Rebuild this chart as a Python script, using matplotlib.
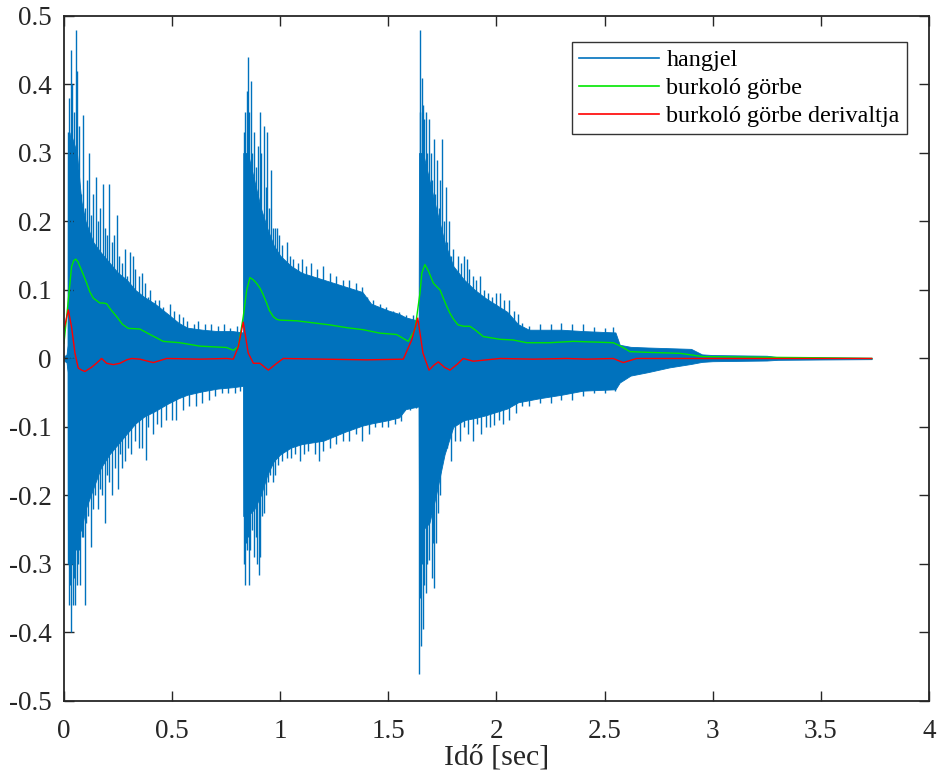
import matplotlib
matplotlib.use("Agg")
import matplotlib.pyplot as plt
from matplotlib.lines import Line2D

# dense part of the sound signal (upper / lower edge)
body_t = [0.000, 0.012, 0.017, 0.018, 0.03, 0.06, 0.08, 0.10, 0.135, 0.17, 0.21, 0.25, 0.29, 0.33,
          0.37, 0.42, 0.48, 0.53, 0.57, 0.64, 0.71, 0.78, 0.828,
          0.829, 0.85, 0.88, 0.91, 0.94, 0.97, 1.00, 1.05, 1.10, 1.20, 1.30, 1.38, 1.42, 1.50,
          1.55, 1.58, 1.640,
          1.642, 1.66, 1.69, 1.72, 1.76, 1.80, 1.85, 1.90, 1.95, 2.00, 2.05, 2.10, 2.15, 2.20,
          2.30, 2.40, 2.55, 2.57, 2.62, 2.70, 2.80, 2.90, 2.95, 3.00, 3.25, 3.30, 3.50, 3.735]
body_hi = [0.003, 0.006, 0.02, 0.30, 0.33, 0.30, 0.23, 0.20, 0.17, 0.155, 0.14, 0.125, 0.115, 0.10,
           0.09, 0.08, 0.065, 0.052, 0.045, 0.042, 0.04, 0.04, 0.038,
           0.30, 0.30, 0.26, 0.22, 0.19, 0.165, 0.15, 0.135, 0.125, 0.115, 0.105, 0.097, 0.08, 0.07,
           0.065, 0.06, 0.055,
           0.30, 0.30, 0.26, 0.22, 0.17, 0.135, 0.115, 0.10, 0.088, 0.078, 0.068, 0.05, 0.042, 0.042,
           0.042, 0.04, 0.038, 0.02, 0.017, 0.016, 0.015, 0.014, 0.006, 0.005, 0.004, 0.002, 0.0015, 0.001]
body_lo = [-0.003, -0.006, -0.02, -0.25, -0.27, -0.26, -0.25, -0.22, -0.19, -0.16, -0.14, -0.125, -0.11, -0.095,
           -0.085, -0.077, -0.066, -0.058, -0.053, -0.048, -0.044, -0.042, -0.04,
           -0.23, -0.23, -0.22, -0.20, -0.17, -0.15, -0.14, -0.13, -0.125, -0.12, -0.107, -0.098, -0.095, -0.09,
           -0.086, -0.074, -0.07,
           -0.25, -0.25, -0.24, -0.20, -0.14, -0.10, -0.09, -0.087, -0.083, -0.078, -0.073, -0.064, -0.061, -0.058,
           -0.053, -0.047, -0.045, -0.035, -0.025, -0.02, -0.013, -0.008, -0.005, -0.004, -0.003, -0.002, -0.0015, -0.001]

# individual peaks sticking out of the dense part
peak_hi_t = [0.020, 0.025, 0.031, 0.038, 0.045, 0.055, 0.062, 0.070, 0.078, 0.086, 0.095, 0.105, 0.117,
             0.125, 0.135, 0.148, 0.158, 0.168, 0.179, 0.190, 0.200, 0.210, 0.222, 0.232, 0.244, 0.256,
             0.268, 0.280, 0.292, 0.305, 0.318, 0.33, 0.345, 0.36, 0.375, 0.39, 0.40, 0.42, 0.44, 0.46,
             0.49, 0.51, 0.53, 0.55, 0.57, 0.60, 0.62, 0.65, 0.68, 0.71, 0.74, 0.77, 0.80,
             0.832, 0.838, 0.845, 0.849, 0.855, 0.863, 0.870, 0.878, 0.886, 0.895, 0.905, 0.912, 0.925,
             0.932, 0.94, 0.948, 0.956, 0.965, 0.975, 0.985, 0.995, 1.01, 1.03, 1.045, 1.06, 1.08, 1.10,
             1.12, 1.14, 1.17, 1.20, 1.23, 1.26, 1.29, 1.32, 1.35, 1.38, 1.40, 1.43, 1.46, 1.49, 1.52,
             1.55, 1.58, 1.615,
             1.645, 1.648, 1.654, 1.660, 1.667, 1.674, 1.681, 1.688, 1.697, 1.704, 1.711, 1.718, 1.725,
             1.732, 1.740, 1.746, 1.755, 1.765, 1.772, 1.780, 1.79, 1.80, 1.81, 1.822, 1.835, 1.848,
             1.862, 1.875, 1.89, 1.905, 1.924, 1.94, 1.96, 1.98, 2.0, 2.016, 2.035, 2.06, 2.08, 2.1,
             2.12, 2.15, 2.2, 2.25, 2.3, 2.35, 2.4, 2.45, 2.5, 2.54]
peak_hi = [0.33, 0.38, 0.45, 0.40, 0.36, 0.48, 0.42, 0.34, 0.24, 0.355, 0.22, 0.26, 0.30,
           0.21, 0.24, 0.265, 0.20, 0.22, 0.255, 0.19, 0.18, 0.255, 0.17, 0.18, 0.21, 0.15,
           0.14, 0.16, 0.12, 0.155, 0.15, 0.13, 0.12, 0.125, 0.11, 0.09, 0.10, 0.085, 0.085, 0.075,
           0.08, 0.07, 0.065, 0.06, 0.055, 0.05, 0.055, 0.05, 0.05, 0.048, 0.05, 0.045, 0.047,
           0.33, 0.36, 0.39, 0.44, 0.36, 0.405, 0.30, 0.33, 0.28, 0.31, 0.36, 0.30, 0.34,
           0.25, 0.33, 0.22, 0.275, 0.19, 0.19, 0.19, 0.18, 0.165, 0.17, 0.15, 0.145, 0.14, 0.145,
           0.135, 0.14, 0.13, 0.135, 0.125, 0.12, 0.115, 0.115, 0.11, 0.105, 0.09, 0.085, 0.08, 0.075, 0.07,
           0.068, 0.064, 0.063,
           0.36, 0.48, 0.41, 0.37, 0.35, 0.36, 0.30, 0.35, 0.30, 0.26, 0.32, 0.24, 0.29,
           0.22, 0.26, 0.32, 0.20, 0.25, 0.17, 0.20, 0.15, 0.16, 0.13, 0.15, 0.14, 0.15,
           0.145, 0.13, 0.12, 0.115, 0.12, 0.10, 0.095, 0.09, 0.095, 0.095, 0.085, 0.085, 0.07, 0.065,
           0.052, 0.048, 0.05, 0.05, 0.052, 0.05, 0.05, 0.046, 0.045, 0.046]

peak_lo_t = [0.020, 0.025, 0.028, 0.032, 0.036, 0.040, 0.045, 0.05, 0.055, 0.06, 0.065, 0.07, 0.076,
             0.083, 0.09, 0.097, 0.104, 0.11, 0.123, 0.135, 0.145, 0.158, 0.168, 0.178, 0.19, 0.20,
             0.21, 0.22, 0.235, 0.25, 0.26, 0.27, 0.28, 0.295, 0.31, 0.33, 0.345, 0.36, 0.378, 0.39,
             0.41, 0.43, 0.45, 0.47, 0.5, 0.52, 0.55, 0.58, 0.61, 0.64, 0.67, 0.7, 0.73, 0.76, 0.79, 0.815,
             0.832, 0.836, 0.84, 0.845, 0.85, 0.856, 0.862, 0.87, 0.878, 0.886, 0.893, 0.9, 0.908,
             0.915, 0.925, 0.935, 0.945, 0.955, 0.965, 0.975, 0.99, 1.01, 1.03, 1.05, 1.07, 1.09,
             1.11, 1.13, 1.16, 1.18, 1.2, 1.23, 1.26, 1.29, 1.32, 1.35, 1.38, 1.41, 1.44, 1.47,
             1.5, 1.53, 1.56, 1.6, 1.63,
             1.644, 1.648, 1.652, 1.657, 1.661, 1.667, 1.672, 1.68, 1.69, 1.7, 1.708, 1.713, 1.72,
             1.73, 1.74, 1.745, 1.755, 1.77, 1.79, 1.81, 1.83, 1.85, 1.87, 1.89, 1.91, 1.93, 1.95,
             1.97, 1.99, 2.01, 2.03, 2.06, 2.09, 2.12, 2.15, 2.2, 2.25, 2.3, 2.35, 2.4, 2.45, 2.5, 2.55]
peak_lo = [-0.30, -0.36, -0.33, -0.40, -0.30, -0.36, -0.32, -0.36, -0.28, -0.33, -0.30, -0.28, -0.33,
           -0.26, -0.26, -0.36, -0.24, -0.23, -0.275, -0.22, -0.20, -0.22, -0.19, -0.20, -0.24, -0.17,
           -0.18, -0.20, -0.16, -0.19, -0.14, -0.16, -0.15, -0.13, -0.14, -0.12, -0.13, -0.13, -0.148, -0.10,
           -0.11, -0.095, -0.10, -0.09, -0.09, -0.09, -0.075, -0.07, -0.07, -0.065, -0.06, -0.055, -0.05,
           -0.05, -0.05, -0.048,
           -0.30, -0.33, -0.27, -0.28, -0.26, -0.33, -0.28, -0.25, -0.29, -0.26, -0.30, -0.316, -0.29,
           -0.23, -0.226, -0.20, -0.18, -0.17, -0.18, -0.17, -0.155, -0.15, -0.145, -0.145, -0.14, -0.15,
           -0.14, -0.135, -0.14, -0.15, -0.135, -0.13, -0.125, -0.12, -0.12, -0.11, -0.12, -0.11, -0.10, -0.10,
           -0.10, -0.095, -0.092, -0.075, -0.072,
           -0.46, -0.35, -0.42, -0.30, -0.395, -0.33, -0.343, -0.30, -0.294, -0.32, -0.27, -0.335, -0.27,
           -0.226, -0.20, -0.144, -0.13, -0.13, -0.15, -0.12, -0.12, -0.10, -0.11, -0.12, -0.095, -0.11, -0.10,
           -0.10, -0.097, -0.09, -0.095, -0.09, -0.08, -0.07, -0.07, -0.065, -0.065, -0.06, -0.06, -0.055,
           -0.05, -0.05, -0.048]

# envelope curve
env_t = [0.0, 0.02, 0.035, 0.045, 0.055, 0.065, 0.074, 0.09, 0.105, 0.12, 0.136, 0.166, 0.18, 0.197,
         0.22, 0.244, 0.27, 0.297, 0.351, 0.398, 0.459, 0.536, 0.629, 0.752, 0.783, 0.806, 0.829,
         0.845, 0.86, 0.875, 0.89, 0.906, 0.92, 0.937, 0.95, 0.968, 0.985, 0.999, 1.076,
         1.153, 1.23, 1.307, 1.384, 1.461, 1.538, 1.592, 1.623, 1.646, 1.655, 1.669, 1.685, 1.708,
         1.72, 1.739, 1.77, 1.785, 1.80, 1.822, 1.85, 1.877, 1.9, 1.939, 2.016, 2.077, 2.14, 2.247,
         2.355, 2.45, 2.54, 2.58, 2.617, 2.694, 2.85, 2.956, 3.157, 3.5, 3.735]
env_v = [0.022, 0.085, 0.134, 0.143, 0.145, 0.141, 0.134, 0.122, 0.11, 0.097, 0.088, 0.081, 0.081, 0.08,
         0.07, 0.061, 0.05, 0.044, 0.043, 0.035, 0.025, 0.023, 0.018, 0.016, 0.012, 0.017, 0.061,
         0.100, 0.118, 0.115, 0.11, 0.103, 0.094, 0.081, 0.07, 0.061, 0.057, 0.056, 0.055,
         0.052, 0.049, 0.045, 0.042, 0.037, 0.035, 0.025, 0.042, 0.095, 0.125, 0.137, 0.128, 0.11,
         0.106, 0.10, 0.076, 0.066, 0.058, 0.049, 0.047, 0.047, 0.042, 0.032, 0.028, 0.027, 0.023, 0.023,
         0.025, 0.024, 0.023, 0.017, 0.01, 0.009, 0.0075, 0.0027, 0.002, 0.001, 0.0]

# derivative of the envelope
der_t = [0.0, 0.02, 0.035, 0.051, 0.066, 0.082, 0.097, 0.112, 0.127, 0.15, 0.174, 0.197, 0.228,
         0.259, 0.29, 0.313, 0.351, 0.413, 0.475, 0.629, 0.752, 0.783, 0.806, 0.829, 0.852, 0.876,
         0.906, 0.945, 0.984, 1.014, 1.2, 1.4, 1.569, 1.608, 1.636, 1.66, 1.688, 1.71, 1.731, 1.76,
         1.785, 1.82, 1.846, 1.893, 2.016, 2.17, 2.325, 2.417, 2.54, 2.586, 2.648, 3.0, 3.735]
der_v = [0.042, 0.071, 0.046, 0.0075, -0.014, -0.017, -0.019, -0.016, -0.013, -0.007, 0.0, -0.007, -0.009,
         -0.007, -0.002, 0.0, -0.001, -0.006, 0.0, -0.001, 0.0, -0.001, 0.017, 0.053, 0.008, -0.007,
         -0.007, -0.017, -0.007, 0.0, -0.001, -0.002, -0.001, 0.027, 0.059, 0.008, -0.017, -0.01, -0.005, -0.013,
         -0.017, -0.008, 0.0, -0.004, 0.0, -0.001, 0.0, -0.001, 0.0, -0.006, 0.0, 0.0, 0.0]

x_ticks = [0, 0.5, 1, 1.5, 2, 2.5, 3, 3.5, 4]
x_labels = ["0", "0.5", "1", "1.5", "2", "2.5", "3", "3.5", "4"]
y_ticks = [-0.5, -0.4, -0.3, -0.2, -0.1, 0, 0.1, 0.2, 0.3, 0.4, 0.5]
y_labels = ["-0.5", "-0.4", "-0.3", "-0.2", "-0.1", "0", "0.1", "0.2", "0.3", "0.4", "0.5"]

BLUE = "#0072BD"
GREEN = "#00e600"
RED = "#ff0000"
DARK = "#262626"

plt.rcParams["font.family"] = ["Liberation Serif", "DejaVu Serif"]
plt.rcParams["axes.unicode_minus"] = False

fig = plt.figure(figsize=(9.38, 7.76), dpi=100)
ax = fig.add_axes([0.0682, 0.0967, 0.9222, 0.8827])

ax.fill_between(body_t, body_lo, body_hi, color=BLUE, linewidth=0.6, edgecolor=BLUE)
ax.vlines(peak_hi_t, 0, peak_hi, color=BLUE, linewidth=1.0)
ax.vlines(peak_lo_t, 0, peak_lo, color=BLUE, linewidth=1.0)
ax.plot(env_t, env_v, color=GREEN, linewidth=1.0)
ax.plot(der_t, der_v, color=RED, linewidth=1.0)

ax.set_xlim(0, 4)
ax.set_ylim(-0.5, 0.5)
ax.set_xticks(x_ticks, x_labels)
ax.set_yticks(y_ticks, y_labels)
ax.tick_params(direction="in", length=7, width=1.0, colors=DARK, labelsize=19.5,
               top=True, right=True)
ax.tick_params(axis="y", pad=9)
ax.tick_params(axis="x", pad=13)
for side in ax.spines.values():
    side.set_color(DARK)
    side.set_linewidth(1.3)
ax.set_xlabel("Idő [sec]", fontsize=21.5, color=DARK, labelpad=0)

handles = [Line2D([], [], color=BLUE, lw=1.2),
           Line2D([], [], color=GREEN, lw=1.2),
           Line2D([], [], color=RED, lw=1.2)]
leg = ax.legend(handles, ["hangjel", "burkoló görbe", "burkoló görbe derivaltja"],
                loc="upper right", bbox_to_anchor=(0.9746, 0.962), borderaxespad=0,
                fontsize=17.4, fancybox=False, framealpha=1, edgecolor="#333333",
                handlelength=3.3, handletextpad=0.3, labelspacing=0.25, borderpad=0.3)
leg.get_frame().set_linewidth(1.0)

fig.savefig("out.png", dpi=100)
